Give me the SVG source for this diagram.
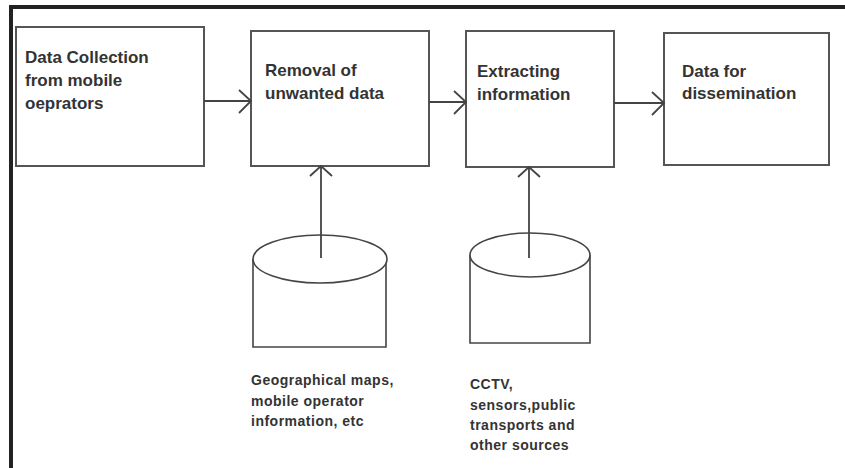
<svg xmlns="http://www.w3.org/2000/svg" width="845" height="468" viewBox="0 0 845 468">
<style>
.box{fill:#fff;stroke:#555;stroke-width:2}
.cyl{fill:#fff;stroke:#444;stroke-width:1.6}
.lbl{font-family:"Liberation Sans",Arial,sans-serif;font-weight:bold;font-size:17px;fill:#333}
.src{font-family:"Liberation Sans",Arial,sans-serif;font-weight:bold;font-size:14px;fill:#333;letter-spacing:0.5px}
.con{fill:none;stroke:#444;stroke-width:1.8}
</style>
<rect x="0" y="0" width="845" height="468" fill="#fff"/>
<path d="M11,468 V7 H845" fill="none" stroke="#222" stroke-width="4"/>
<g id="n1">
<rect class="box" x="16" y="27" width="188" height="139"/>
<text class="lbl" x="25" y="63">Data Collection</text>
<text class="lbl" x="25" y="86">from mobile</text>
<text class="lbl" x="25" y="109">oeprators</text>
</g>
<g id="n2">
<rect class="box" x="251" y="31" width="178" height="135"/>
<text class="lbl" x="265" y="76">Removal of</text>
<text class="lbl" x="265" y="99">unwanted data</text>
</g>
<g id="n3">
<rect class="box" x="466" y="31" width="148" height="136"/>
<text class="lbl" x="477" y="77">Extracting</text>
<text class="lbl" x="477" y="100">information</text>
</g>
<g id="n4">
<rect class="box" x="664" y="33" width="165" height="132"/>
<text class="lbl" x="682" y="77">Data for</text>
<text class="lbl" x="682" y="99">dissemination</text>
</g>
<g id="db1">
<path class="cyl" d="M253,259 V347 H386 V259"/>
<ellipse class="cyl" cx="320" cy="259" rx="67" ry="24"/>
<text class="src" x="251" y="385">Geographical maps,</text>
<text class="src" x="251" y="406">mobile operator</text>
<text class="src" x="251" y="426">information, etc</text>
</g>
<g id="db2">
<path class="cyl" d="M470,255 V343 H590 V255"/>
<ellipse class="cyl" cx="530" cy="255" rx="60" ry="22"/>
<text class="src" x="470" y="389">CCTV,</text>
<text class="src" x="470" y="410">sensors,public</text>
<text class="src" x="470" y="430">transports and</text>
<text class="src" x="470" y="450">other sources</text>
</g>
<g id="connectors">
<path class="con" d="M204,101 H251 M239,90 L251,101 L239,113"/>
<path class="con" d="M429,102 H466 M454,91 L466,102 L454,114"/>
<path class="con" d="M614,103 H664 M652,92 L664,103 L652,115"/>
<path class="con" d="M321,258 V166 M310,176 L321,166 L332,176"/>
<path class="con" d="M529,258 V167 M518,177 L529,167 L540,177"/>
</g>
</svg>
